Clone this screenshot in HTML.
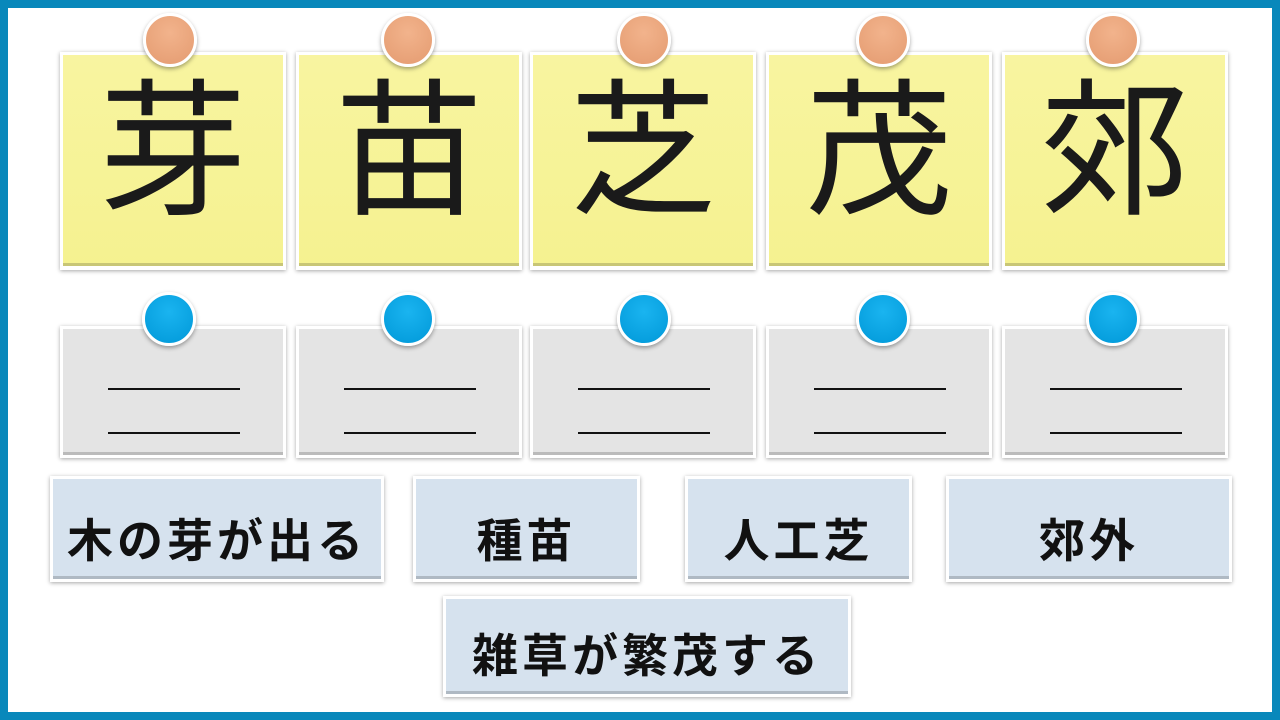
<!DOCTYPE html>
<html><head><meta charset="utf-8"><style>
body{margin:0;width:1280px;height:720px;overflow:hidden;background:#fff;position:relative;font-family:"Liberation Sans","Noto Sans CJK JP",sans-serif}
.frame{position:absolute;left:0;top:0;width:1264px;height:704px;border:8px solid #0888bb}
.card{position:absolute;box-sizing:border-box;border:3px solid #fff;box-shadow:0 1px 4px rgba(0,0,0,.35)}
.y{background:linear-gradient(#f8f4a0,#f5f290);top:52px;height:218px;width:226px;font-size:148px;line-height:196px;text-align:center;color:#1a1a1a;border-bottom:4px solid #fff}
.y::after,.g::after,.b::after{content:"";position:absolute;left:0;right:0;bottom:0;height:3px;background:rgba(0,0,0,.18)}
.g{background:#e4e4e4;top:326px;height:132px;width:226px}
.g i{position:absolute;left:45px;width:132px;height:2px;background:#111}
.b{background:#d6e2ee;height:106px;font-size:46px;font-weight:bold;text-align:center;line-height:124px;color:#111;letter-spacing:4px}
.pin{position:absolute;width:48px;height:48px;border-radius:50%;border:3px solid #fff;box-shadow:0 2px 4px rgba(0,0,0,.35)}
.o{background:radial-gradient(circle at 50% 35%,#f2b38c,#e49b70)}
.bl{background:radial-gradient(circle at 50% 35%,#1ab4f0,#0098d8)}
</style></head><body>
<div class="frame"></div>
<div class="card y" style="left:60px">芽</div>
<div class="card y" style="left:296px">苗</div>
<div class="card y" style="left:530px">芝</div>
<div class="card y" style="left:766px">茂</div>
<div class="card y" style="left:1002px">郊</div>
<div class="pin o" style="left:143px;top:13px"></div>
<div class="pin o" style="left:381px;top:13px"></div>
<div class="pin o" style="left:617px;top:13px"></div>
<div class="pin o" style="left:856px;top:13px"></div>
<div class="pin o" style="left:1086px;top:13px"></div>
<div class="card g" style="left:60px"><i style="top:59px"></i><i style="top:103px"></i></div>
<div class="card g" style="left:296px"><i style="top:59px"></i><i style="top:103px"></i></div>
<div class="card g" style="left:530px"><i style="top:59px"></i><i style="top:103px"></i></div>
<div class="card g" style="left:766px"><i style="top:59px"></i><i style="top:103px"></i></div>
<div class="card g" style="left:1002px"><i style="top:59px"></i><i style="top:103px"></i></div>
<div class="pin bl" style="left:142px;top:292px"></div>
<div class="pin bl" style="left:381px;top:292px"></div>
<div class="pin bl" style="left:617px;top:292px"></div>
<div class="pin bl" style="left:856px;top:292px"></div>
<div class="pin bl" style="left:1086px;top:292px"></div>
<div class="card b" style="left:50px;top:476px;width:334px">木の芽が出る</div>
<div class="card b" style="left:413px;top:476px;width:227px">種苗</div>
<div class="card b" style="left:685px;top:476px;width:227px">人工芝</div>
<div class="card b" style="left:946px;top:476px;width:286px">郊外</div>
<div class="card b" style="left:443px;top:596px;width:408px;height:101px;line-height:114px">雑草が繁茂する</div>
</body></html>
